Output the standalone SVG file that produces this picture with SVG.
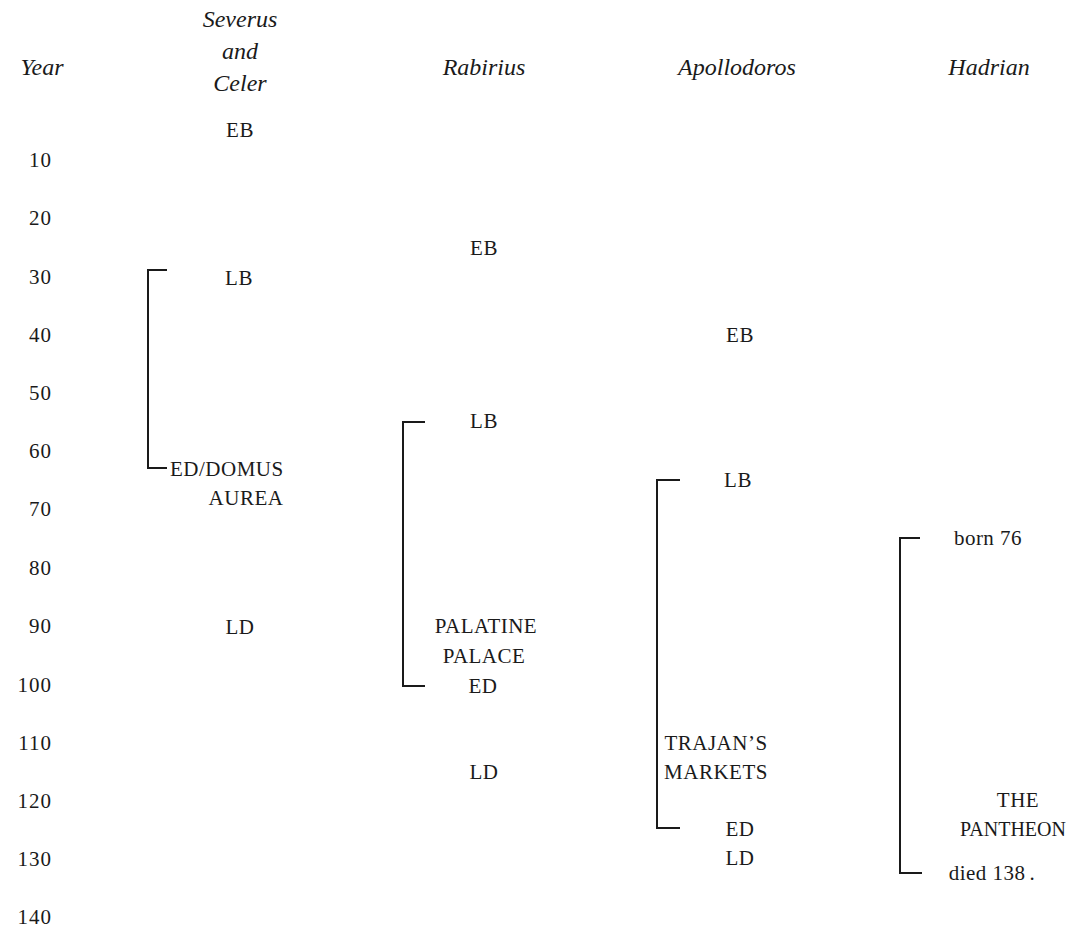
<svg xmlns="http://www.w3.org/2000/svg" width="1069" height="934" viewBox="0 0 1069 934">
<style>
text{font-family:"Liberation Serif","Times New Roman",serif;fill:#1a1a1a}
.h{font-style:italic;font-size:24px;text-anchor:middle}
.y{font-size:21px;text-anchor:end;letter-spacing:1px}
.t{font-size:21px;text-anchor:middle;letter-spacing:0.5px}
.br{fill:none;stroke:#1a1a1a;stroke-width:2}
</style>
<rect width="1069" height="934" fill="#ffffff"/>
<g id="headers">
<text class="h" x="42" y="75">Year</text>
<text class="h" x="240" y="27">Severus</text>
<text class="h" x="240" y="59">and</text>
<text class="h" x="240" y="91">Celer</text>
<text class="h" x="484" y="75">Rabirius</text>
<text class="h" x="737" y="75">Apollodoros</text>
<text class="h" x="989" y="75">Hadrian</text>
</g>
<g id="years">
<text class="y" x="52" y="167">10</text>
<text class="y" x="52" y="225">20</text>
<text class="y" x="52" y="284">30</text>
<text class="y" x="52" y="342">40</text>
<text class="y" x="52" y="400">50</text>
<text class="y" x="52" y="458">60</text>
<text class="y" x="52" y="516">70</text>
<text class="y" x="52" y="575">80</text>
<text class="y" x="52" y="633">90</text>
<text class="y" x="52" y="692">100</text>
<text class="y" x="52" y="750">110</text>
<text class="y" x="52" y="808">120</text>
<text class="y" x="52" y="866">130</text>
<text class="y" x="52" y="924">140</text>
</g>
<g id="severus">
<text class="t" x="240" y="137">EB</text>
<text class="t" x="239" y="285">LB</text>
<text x="170" y="476" style="font-size:21px;letter-spacing:0.5px">ED/DOMUS</text>
<text class="t" x="246" y="505">AUREA</text>
<text class="t" x="240" y="634">LD</text>
</g>
<g id="rabirius">
<text class="t" x="484" y="255">EB</text>
<text class="t" x="484" y="428">LB</text>
<text class="t" x="486" y="633">PALATINE</text>
<text class="t" x="484" y="663">PALACE</text>
<text class="t" x="483" y="693">ED</text>
<text class="t" x="484" y="779">LD</text>
</g>
<g id="apollodoros">
<text class="t" x="740" y="342">EB</text>
<text class="t" x="738" y="487">LB</text>
<text class="t" x="716" y="750">TRAJAN’S</text>
<text class="t" x="716" y="779">MARKETS</text>
<text class="t" x="740" y="836">ED</text>
<text class="t" x="740" y="865">LD</text>
</g>
<g id="hadrian">
<text class="t" x="988" y="545">born 76</text>
<text class="t" x="1018" y="807">THE</text>
<text x="1013" y="836" style="font-size:20px;text-anchor:middle">PANTHEON</text>
<text class="t" x="992" y="880">died 138<tspan dx="4">.</tspan></text>
</g>
<g id="connectors">
<path class="br" d="M167,270 H148 V468 H167"/>
<path class="br" d="M425,422 H403 V686 H425"/>
<path class="br" d="M680,480 H657 V828 H680"/>
<path class="br" d="M920,538 H900 V873 H922"/>
</g>
</svg>
